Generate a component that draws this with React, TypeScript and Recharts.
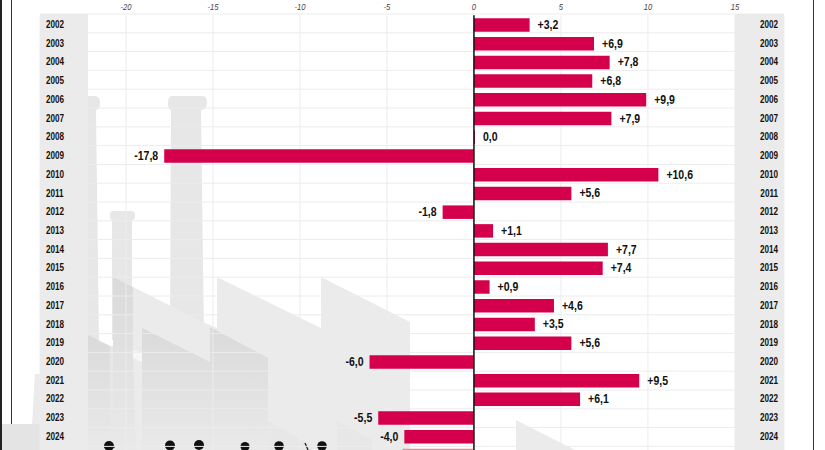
import {
  Bar,
  BarChart,
  CartesianGrid,
  Cell,
  LabelList,
  ReferenceLine,
  XAxis,
  YAxis,
} from "recharts";

const YEARS = [
  "2002", "2003", "2004", "2005", "2006", "2007", "2008", "2009",
  "2010", "2011", "2012", "2013", "2014", "2015", "2016", "2017",
  "2018", "2019", "2020", "2021", "2022", "2023", "2024", "2025",
];
const VALUES = [
  3.2, 6.9, 7.8, 6.8, 9.9, 7.9, 0, -17.8,
  10.6, 5.6, -1.8, 1.1, 7.7, 7.4, 0.9, 4.6,
  3.5, 5.6, -6.0, 9.5, 6.1, -5.5, -4.0, -4.1,
];
const X_TICKS = [-20, -15, -10, -5, 0, 5, 10, 15];
const X_DOMAIN = [-24.94, 17.82];

const FONT = "'Liberation Sans', Arial, sans-serif";
const BAR_COLOR = "#d5004c";
const LAST_BAR_COLOR = "#e88b9c";
const GRID_COLOR = "#ececec";

const rows = YEARS.map((year, i) => ({ year, value: VALUES[i] }));

const formatValue = (v: number) => {
  const s = Math.abs(v).toFixed(1).replace(".", ",");
  if (v === 0) return s;
  return (v > 0 ? "+" : "-") + s;
};

// no condensed face is installed, so the text gets squeezed sideways
function NarrowText({ x, y, anchor, size, squeeze, weight, italic, fill, children }: any) {
  return (
    <text
      transform={`translate(${x} ${y}) scale(${squeeze} 1)`}
      textAnchor={anchor}
      dominantBaseline="central"
      fontFamily={FONT}
      fontWeight={weight}
      fontStyle={italic ? "italic" : "normal"}
      fontSize={size}
      fill={fill}
    >
      {children}
    </text>
  );
}

const renderValueLabel = (props: any) => {
  const { x, y, width, height, value } = props;
  const left = Math.min(Number(x), Number(x) + Number(width));
  const right = Math.max(Number(x), Number(x) + Number(width));
  const negative = value < 0;
  return (
    <NarrowText
      x={negative ? left - 6 : right + 8}
      y={Number(y) + Number(height) / 2 - 0.5}
      anchor={negative ? "end" : "start"}
      size={13.5}
      squeeze={0.78}
      weight={700}
      fill="#111"
    >
      {formatValue(value)}
    </NarrowText>
  );
};

const renderXTick = ({ x, payload }: any) => (
  <NarrowText x={x} y={6.5} anchor="middle" size={9.5} squeeze={0.8} weight={400} italic fill="#444">
    {payload.value}
  </NarrowText>
);

// the 2025 row falls off the bottom of the page, its year never shows
const yearTick = (tx: number, anchor: string) => ({ y, payload }: any) =>
  y > 450 ? <g /> : (
    <NarrowText x={tx} y={y - 0.5} anchor={anchor} size={11} squeeze={0.74} weight={700} fill="#111">
      {payload.value}
    </NarrowText>
  );

// grey factory drawing behind the chart
function Backdrop() {
  const light = "#ebebeb";
  const mid = "#e7e7e7";
  return (
    <svg
      width={825}
      height={450}
      style={{ position: "absolute", left: 0, top: 0 }}
    >
      <defs>
        <linearGradient id="roof" x1="0" y1="0" x2="0" y2="1">
          <stop offset="0" stopColor="#d9dad9" />
          <stop offset="1" stopColor="#e9e9e9" />
        </linearGradient>
      </defs>
      <rect x={0} y={0} width={2} height={450} fill="#222" />
      <rect x={11} y={0} width={1} height={450} fill="#333" />
      <rect x={813} y={0} width={1} height={450} fill="#333" />
      {/* chimneys */}
      <path d="M88 96H95Q100 96 100 103Q100 110 96 110L99 345V450H88Z" fill={mid} />
      <path d="M172 96H203Q207 96 207 103Q207 110 201 110L204 340H170L171 110Q168 110 168 103Q168 96 172 96Z" fill={mid} />
      <path d="M113 211H132Q135 211 135 215Q135 220 132 220V340H112V220Q110 220 110 215Q110 211 113 211Z" fill={mid} />
      <path d="M35 374H40V424H32Z" fill={light} />
      <rect x={40} y={14} width={48} height={436} fill={light} />
      <rect x={735} y={14} width={49} height={436} fill={light} />
      {/* back roofs */}
      <path d="M113 277L205 323L217 328V277L321 328V277L410 322V450H113Z" fill={light} />
      <rect x={108} y={346} width={6} height={104} fill={mid} />
      <path d="M113 277L133 287V352L136 450H113Z" fill="url(#roof)" />
      <path d="M133 350L142 353V362L133 358Z" fill="#f7f7f7" />
      {/* front roofs */}
      <path d="M88 335L110 346V450H88Z" fill="url(#roof)" />
      <path d="M142 328L210 362V327L268 358V450H142Z" fill="url(#roof)" />
      <path d="M268 421L312 446V450H268Z" fill={mid} />
      <path d="M337 421L372 440V450H337Z" fill={mid} />
      <path d="M516 420L575 450H516Z" fill={light} />
      {/* ground */}
      <rect x={2} y={424} width={38} height={26} fill="#e4e4e4" />
      {/* workers */}
      <circle cx={109} cy={446} r={5} fill="#111" />
      <rect x={104} y={446} width={11} height={1.5} fill="#111" />
      <circle cx={170} cy={445.5} r={5} fill="#111" />
      <circle cx={199} cy={445} r={5} fill="#111" />
      <circle cx={245} cy={446.5} r={4.5} fill="#111" />
      <circle cx={279} cy={446} r={4.8} fill="#111" />
      <circle cx={322} cy={446} r={4.8} fill="#111" />
      <path d="M305 443L308 450" stroke="#111" strokeWidth={1.2} />
    </svg>
  );
}

export default function App() {
  return (
    <div
      style={{
        position: "absolute",
        left: 0,
        top: 0,
        width: 825,
        height: 450,
        overflow: "hidden",
        background: "#fff",
      }}
    >
      <Backdrop />
      <div style={{ position: "absolute", left: 0, top: 0 }}>
        <BarChart
          width={825}
          height={470}
          data={rows}
          layout="vertical"
          margin={{ top: 14.2, right: 40, bottom: 5.5, left: 39 }}
        >
          <CartesianGrid
            stroke={GRID_COLOR}
            horizontalCoordinatesGenerator={() =>
              YEARS.map((_, i) => 14 + i * 18.8)
            }
          />
          <XAxis
            type="number"
            orientation="top"
            domain={X_DOMAIN}
            ticks={X_TICKS}
            allowDataOverflow
            height={1}
            axisLine={false}
            tickLine={false}
            tick={renderXTick}
          />
          <YAxis
            yAxisId="left"
            type="category"
            dataKey="year"
            width={1}
            interval={0}
            axisLine={false}
            tickLine={false}
            tick={yearTick(46, "start")}
          />
          <YAxis
            yAxisId="right"
            orientation="right"
            type="category"
            dataKey="year"
            width={1}
            interval={0}
            axisLine={false}
            tickLine={false}
            tick={yearTick(778, "end")}
          />
          <Bar
            yAxisId="left"
            dataKey="value"
            barSize={13.5}
            minPointSize={1}
            fill={BAR_COLOR}
            isAnimationActive={false}
          >
            {rows.map((r, i) => (
              <Cell
                key={r.year}
                fill={i === rows.length - 1 ? LAST_BAR_COLOR : BAR_COLOR}
              />
            ))}
            <LabelList dataKey="value" content={renderValueLabel} />
          </Bar>
          <ReferenceLine yAxisId="left" x={0} stroke="#111" strokeWidth={1.5} />
        </BarChart>
      </div>
    </div>
  );
}
